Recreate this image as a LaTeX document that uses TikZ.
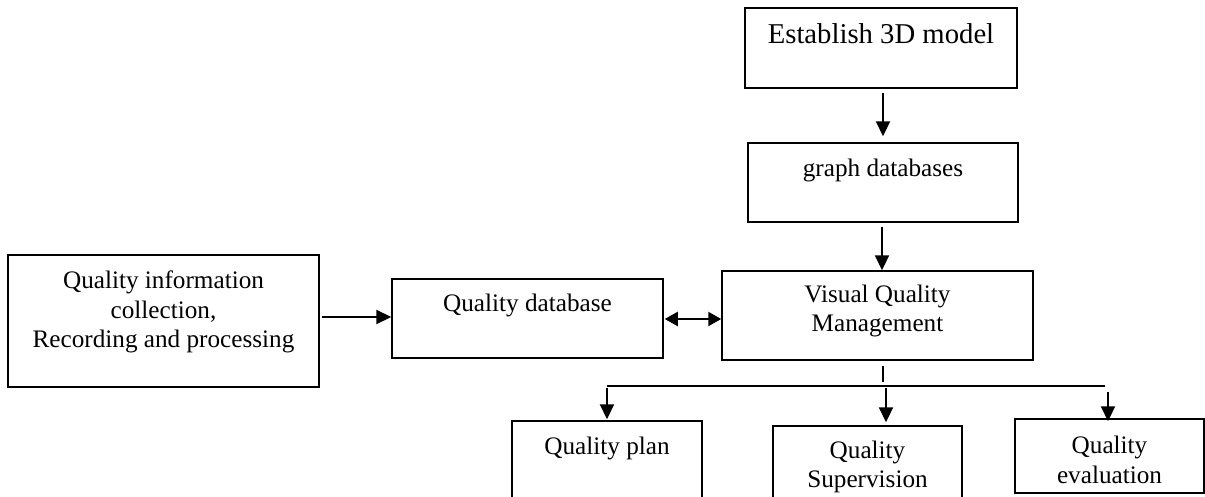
\documentclass[tikz,border=0pt]{standalone}
\usepackage{fontspec}
\setmainfont{Liberation Serif}
\usetikzlibrary{arrows.meta}
\begin{document}
\begin{tikzpicture}[x=1pt,y=-1pt,
  box/.style={draw,line width=1.5pt,inner sep=0pt,minimum width=#1},
  txt/.style={align=center,inner sep=0pt,font=\fontsize{25.2}{29.5}\selectfont},
  arr/.style={line width=2.2pt,-{Triangle[length=15pt,width=14pt]}},
  darr/.style={line width=2.2pt,{Triangle[length=13pt,width=14pt]}-{Triangle[length=13pt,width=14pt]}},
  ln/.style={line width=1.5pt}]
\useasboundingbox (0,0) rectangle (1205,496);
\clip (0,0) rectangle (1205,496);
% boxes
\node[box=311pt,minimum height=132pt] (info) at (163.5,321) {};
\node[box=271pt,minimum height=79pt] (qdb) at (527.5,318.5) {};
\node[box=272pt,minimum height=80pt] (est) at (881,48) {};
\node[box=270pt,minimum height=79pt] (gdb) at (883,182.5) {};
\node[box=311pt,minimum height=89pt] (vqm) at (877.5,315.5) {};
\node[box=190pt,minimum height=89pt] (plan) at (607,465.5) {};
\node[box=189pt,minimum height=89pt] (sup) at (867.5,470.5) {};
\node[box=189pt,minimum height=74pt] (eval) at (1109.5,456) {};
% texts
\node[txt,font=\fontsize{28.7}{33}\selectfont] (testa) at (881,34) {Establish 3D model};
\node[txt] (tgdb) at (883,170) {graph databases};
\node[txt] (tvqm) at (877.5,311) {Visual Quality\\Management};
\node[txt] (tqdb) at (527.5,305) {Quality database};
\node[txt] (tinfo) at (163.5,312) {Quality information\\collection,\\Recording and processing};
\node[txt] (tplan) at (607,448) {Quality plan};
\node[txt] (tsup) at (867.5,467) {Quality\\Supervision};
\node[txt] (teval) at (1109.5,460) {Quality\\evaluation};
% connectors
\draw[arr,shorten <=4pt,shorten >=6pt] ([xshift=2pt]est.south) -- (gdb.north);
\draw[arr,shorten <=4pt] ([xshift=-1pt]gdb.south) -- ([xshift=4.5pt]vqm.north);
\draw[arr,shorten <=2pt] ([yshift=4pt]info.east) -- ([yshift=1.5pt]qdb.west);
\draw[darr,shorten <=1pt] ([yshift=-0.5pt]qdb.east) -- ([yshift=-3.5pt]vqm.west);
\coordinate (bl) at (607,386);
\coordinate (br) at (1105,386);
\coordinate (c2) at (886,386);
\coordinate (c3) at (1108,386);
\draw[ln,shorten <=5pt,shorten >=4pt] ([xshift=5.5pt]vqm.south) -- ([xshift=5.5pt]vqm.south |- bl);
\draw[ln] (bl) -- (br);
\draw[arr,shorten <=2pt,shorten >=1pt] (bl) -- (bl |- plan.north);
\draw[arr,shorten <=2pt,shorten >=3pt] (c2) -- (c2 |- sup.north);
\draw[arr,shorten <=6pt,shorten >=-3pt] (c3) -- (c3 |- eval.north);
\end{tikzpicture}
\end{document}
